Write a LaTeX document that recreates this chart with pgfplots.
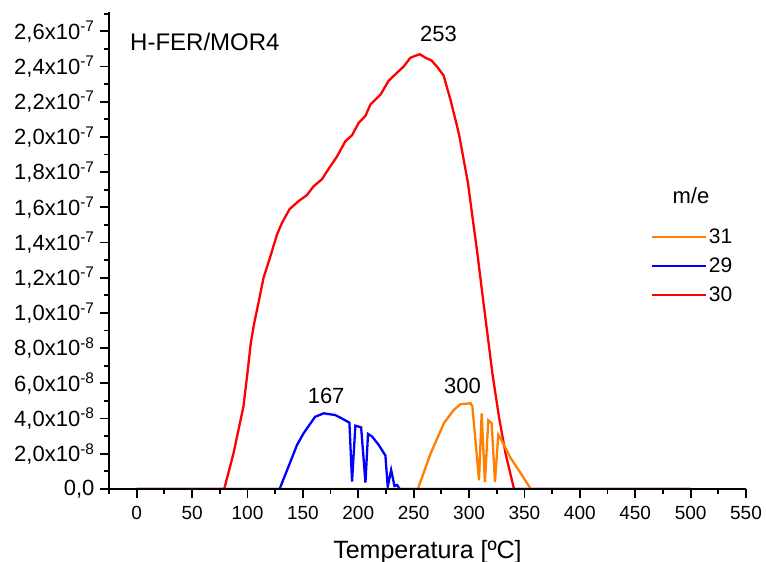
\documentclass[border=0pt]{standalone}
\usepackage{fontspec}
\setmainfont{Liberation Sans}
\usepackage{pgfplots}
\pgfplotsset{compat=1.18}
\definecolor{cRed}{RGB}{255,0,0}
\definecolor{cBlue}{RGB}{0,0,255}
\definecolor{cOrange}{RGB}{255,128,0}
\begin{document}
\begin{tikzpicture}
\begin{axis}[
  scale only axis, width=637pt, height=477pt,
  xmin=-25, xmax=550, ymin=0, ymax=27.1,
  axis lines=left, axis line style={-, line width=2pt},
  axis on top,
  tick align=outside,
  major tick length=9pt, minor tick length=5pt,
  every tick/.style={black, line width=1.8pt},
  xtick={0,50,...,550}, minor xtick={-25,25,75,...,525},
  ytick={0,2,...,26}, minor ytick={1,3,...,27},
  yticklabels={{0,0}, {2,0x10\textsuperscript{-8}}, {4,0x10\textsuperscript{-8}}, {6,0x10\textsuperscript{-8}}, {8,0x10\textsuperscript{-8}},
     {1,0x10\textsuperscript{-7}}, {1,2x10\textsuperscript{-7}}, {1,4x10\textsuperscript{-7}}, {1,6x10\textsuperscript{-7}}, {1,8x10\textsuperscript{-7}},
     {2,0x10\textsuperscript{-7}}, {2,2x10\textsuperscript{-7}}, {2,4x10\textsuperscript{-7}}, {2,6x10\textsuperscript{-7}}},
  /pgf/number format/assume math mode=true,
  xticklabel style={font=\fontsize{19}{22}\selectfont, yshift=-5pt},
  yticklabel style={font=\fontsize{22}{26}\selectfont, xshift=-2pt},
  xlabel={Temperatura [ºC]},
  xlabel style={font=\fontsize{25}{30}\selectfont, at={(axis description cs:0.5,-0.145)}, anchor=base, inner sep=0pt},
  legend style={draw=none, fill=none, at={(axis description cs:0.850,0.550)}, anchor=north west,
     font=\fontsize{21}{25}\selectfont, row sep=9pt, inner sep=0pt, nodes={inner sep=2pt}},
  legend image code/.code={\draw[#1, line width=2.3pt] (0pt,0pt) -- (54pt,0pt);},
  legend cell align=left, reverse legend,
]
\addplot[cRed, line width=2.3pt] coordinates {
(0,0) (79,0) (87.4,2.03) (96.4,4.7) (100,6.6) (103,8.3) (106,9.4) (110,10.6) (114.5,12.0)
(120.6,13.2) (126.6,14.45) (131,15.1) (138,15.9) (146,16.35) (153.7,16.7) (159.7,17.2)
(167.3,17.6) (171.8,18.05) (180.9,18.9) (188.4,19.76) (194.4,20.1) (200.4,20.8) (206.5,21.2)
(211,21.85) (220,22.4) (227.5,23.2) (235,23.65) (241,24.0) (247,24.5) (251,24.6) (255.6,24.7)
(260.7,24.5) (266,24.35) (271,24.0) (277,23.5) (283.3,22.1) (290.8,20.2) (299,17.4)
(303,15.5) (307.5,13.4) (312,11.1) (316.5,8.86) (321,6.6) (327,4.1) (333,2.0) (340.6,0) (500,0)};
\addlegendentry{30}
\addplot[cBlue, line width=2.3pt] coordinates {
(0,0) (129,0) (137,1.27) (144.7,2.5) (150.7,3.17) (161,4.1) (168.8,4.3) (179.3,4.2) (185.4,4.0)
(192,3.77) (194.4,0.42) (197.4,3.6) (202.6,3.5) (206.5,0.36) (208.8,3.13) (212.5,2.98)
(218.5,2.5) (224.5,1.9) (226.6,0.13) (229.7,1.08) (232.7,0.17) (235,0.23) (237.5,0) (500,0)};
\addlegendentry{29}
\addplot[cOrange, line width=2.3pt] coordinates {
(0,0) (253.8,0) (265.2,2.0) (277.3,3.74) (286.3,4.5) (292.4,4.82) (301.4,4.87) (303,4.7)
(309,0.5) (311.4,4.3) (314.3,0.4) (317.4,3.9) (320.4,3.74) (323.4,0.4) (326.4,3.07)
(330,2.69) (337.6,1.75) (346.6,0.9) (355.7,0) (500,0)};
\addlegendentry{31}
\node[anchor=base west, inner sep=0pt, font=\fontsize{24}{29}\selectfont] at (axis cs:-6,24.94) {H-FER/MOR4};
\node[anchor=base, inner sep=0pt, font=\fontsize{22}{26}\selectfont] at (axis cs:272.5,25.41) {253};
\node[anchor=base, inner sep=0pt, font=\fontsize{22}{26}\selectfont] at (axis cs:171,4.84) {167};
\node[anchor=base, inner sep=0pt, font=\fontsize{22}{26}\selectfont] at (axis cs:294,5.45) {300};
\node[anchor=base, inner sep=0pt, font=\fontsize{22}{26}\selectfont] at (axis cs:500.3,16.2) {m/e};
\coordinate (O) at (rel axis cs:0,0);
\end{axis}
\pgfresetboundingbox
\path[use as bounding box] (O) ++(-109pt,-73pt) rectangle ++(766pt,562pt);
\end{tikzpicture}
\end{document}
